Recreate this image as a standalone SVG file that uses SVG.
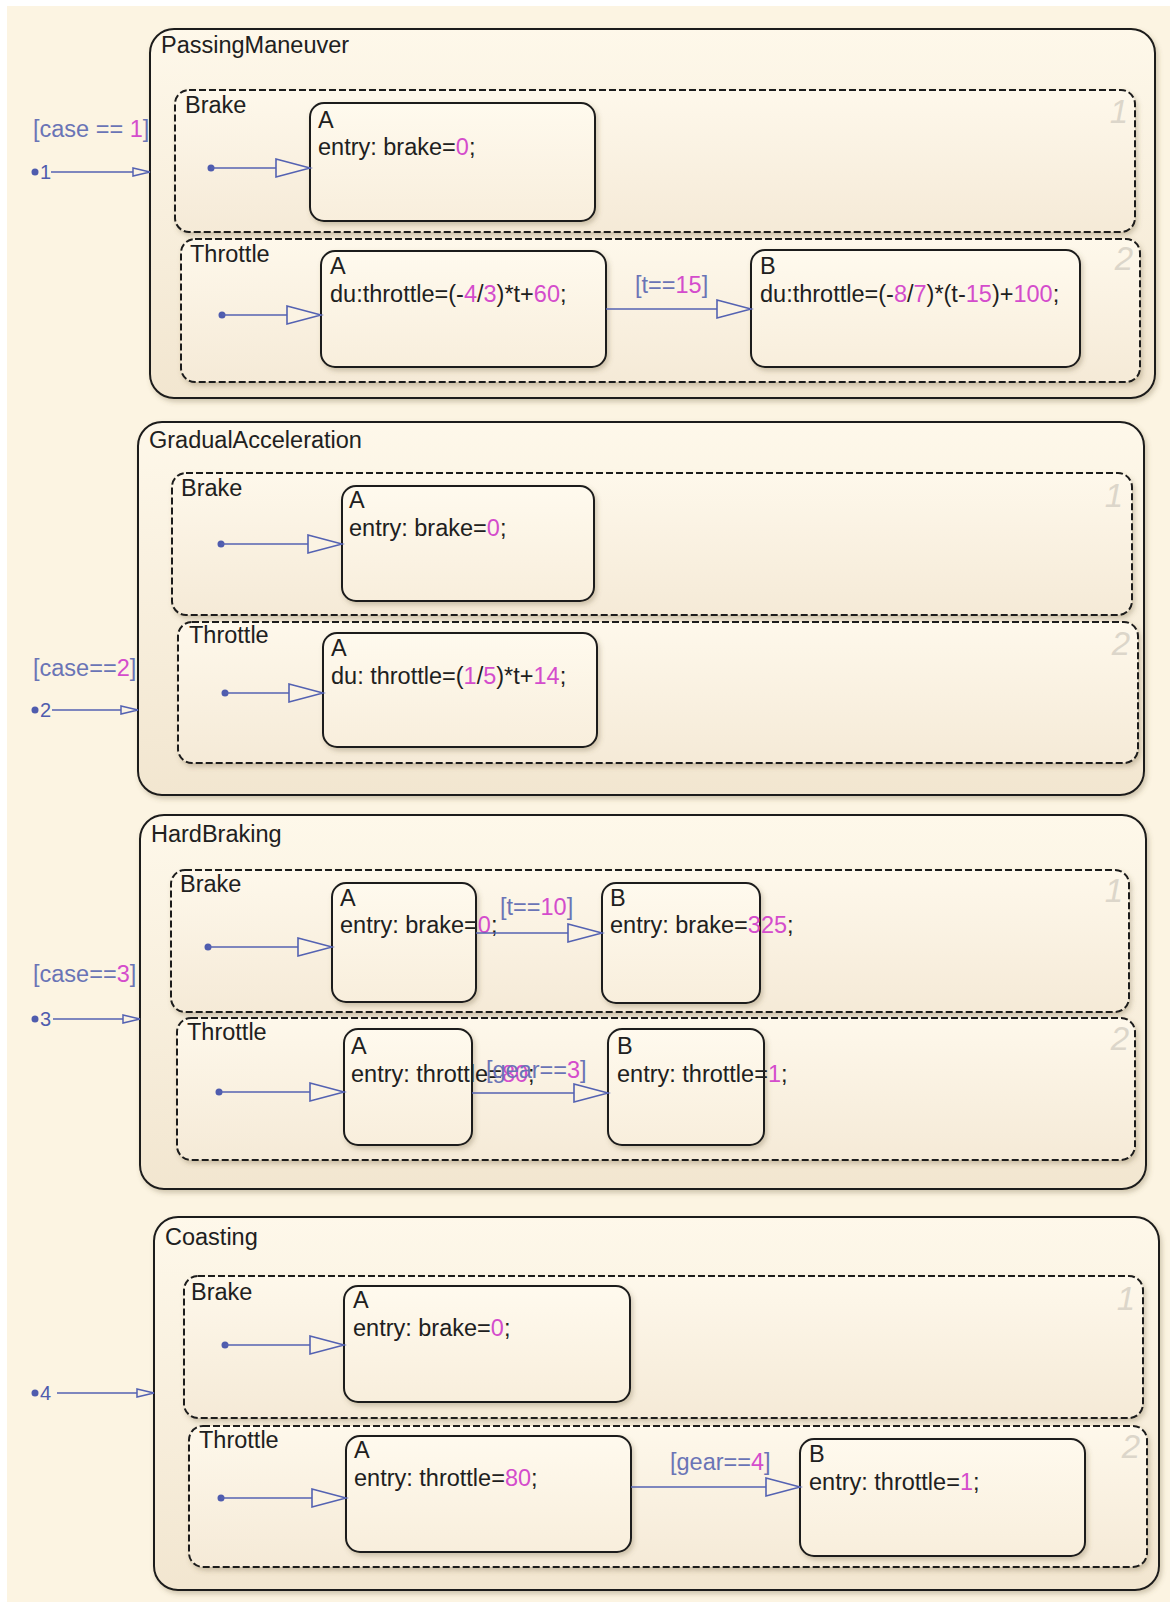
<svg xmlns="http://www.w3.org/2000/svg" width="1170" height="1602" viewBox="0 0 1170 1602">
<style>
.t{font-family:"Liberation Sans",Arial,sans-serif;font-size:23.5px;fill:#202020}
.m{fill:#d44ccc}
.lb{font-family:"Liberation Sans",Arial,sans-serif;font-size:23.5px;fill:#6a74b6}
.jn{font-family:"Liberation Sans",Arial,sans-serif;font-size:20px;fill:#4f5cae}
.num{font-family:"Liberation Sans",Arial,sans-serif;font-size:33px;font-style:italic;fill:#dcd6ca;text-anchor:end}
.chart{fill:url(#gChart);stroke:#1c1c1c;stroke-width:2;filter:url(#sh)}
.region{fill:url(#gReg);stroke:#1c1c1c;stroke-width:2;stroke-dasharray:7 3;filter:url(#sh)}
.state{fill:url(#gState);stroke:#1c1c1c;stroke-width:2;filter:url(#sh)}
.tr{stroke:#5462b2;stroke-width:1.6;fill:none;marker-end:url(#ah)}
.en{stroke:#5462b2;stroke-width:1.6;fill:none;marker-end:url(#ahs)}
.dot{fill:#4f5cae}
</style>
<defs>
<linearGradient id="gChart" x1="0" y1="0" x2="0" y2="1"><stop offset="0" stop-color="#fef8ea"/><stop offset="1" stop-color="#f2e6d0"/></linearGradient>
<linearGradient id="gReg" x1="0" y1="0" x2="0" y2="1"><stop offset="0" stop-color="#fef8eb"/><stop offset="1" stop-color="#f5ead7"/></linearGradient>
<linearGradient id="gState" x1="0" y1="0" x2="0" y2="1"><stop offset="0" stop-color="#fffaee"/><stop offset="1" stop-color="#f8eedc"/></linearGradient>
<filter id="sh" x="-5%" y="-5%" width="112%" height="118%"><feDropShadow dx="2" dy="3" stdDeviation="2.5" flood-color="#6b5a3a" flood-opacity="0.3"/></filter>
<marker id="ah" markerUnits="userSpaceOnUse" markerWidth="38" markerHeight="22" refX="35" refY="10" orient="auto"><path d="M1,1 L35,10 L1,19 Z" fill="#fbf3e3" stroke="#5462b2" stroke-width="1.6"/></marker>
<marker id="ahs" markerUnits="userSpaceOnUse" markerWidth="20" markerHeight="12" refX="18" refY="5" orient="auto"><path d="M1,1 L18,5 L1,9 Z" fill="#fbf3e3" stroke="#5462b2" stroke-width="1.5"/></marker>
</defs>
<rect x="0" y="0" width="1170" height="1602" fill="#ffffff"/>
<rect x="7" y="6" width="1163" height="1596" fill="#fcf4e2"/>

<!-- Chart 1 -->
<g id="PassingManeuver">
<rect class="chart" x="150" y="29" width="1005" height="369" rx="24"/>
<text class="t" x="161" y="53">PassingManeuver</text>
</g>
<g id="PM_Brake">
<rect class="region" x="175" y="90" width="960" height="142" rx="14"/>
<text class="t" x="185" y="113">Brake</text>
<text class="num" x="1128" y="123">1</text>
</g>
<g id="PM_Brake_A">
<rect class="state" x="310" y="103" width="285" height="118" rx="14"/>
<text class="t" x="318" y="128">A</text>
<text class="t" x="318" y="155">entry: brake=<tspan class="m">0</tspan>;</text>
</g>
<g id="PM_Throttle">
<rect class="region" x="181" y="239" width="959" height="143" rx="14"/>
<text class="t" x="190" y="262">Throttle</text>
<text class="num" x="1133" y="270">2</text>
</g>
<g id="PM_Throttle_A">
<rect class="state" x="321" y="251" width="285" height="116" rx="14"/>
<text class="t" x="330" y="274">A</text>
<text class="t" x="330" y="302">du:throttle=(-<tspan class="m">4</tspan>/<tspan class="m">3</tspan>)*t+<tspan class="m">60</tspan>;</text>
</g>
<g id="PM_Throttle_B">
<rect class="state" x="751" y="250" width="329" height="117" rx="14"/>
<text class="t" x="760" y="274">B</text>
<text class="t" x="760" y="302">du:throttle=(-<tspan class="m">8</tspan>/<tspan class="m">7</tspan>)*(t-<tspan class="m">15</tspan>)+<tspan class="m">100</tspan>;</text>
</g>

<!-- Chart 2 -->
<g id="GradualAcceleration">
<rect class="chart" x="138" y="422" width="1006" height="373" rx="24"/>
<text class="t" x="149" y="448">GradualAcceleration</text>
</g>
<g id="GA_Brake">
<rect class="region" x="172" y="473" width="960" height="142" rx="14"/>
<text class="t" x="181" y="496">Brake</text>
<text class="num" x="1123" y="507">1</text>
</g>
<g id="GA_Brake_A">
<rect class="state" x="342" y="486" width="252" height="115" rx="14"/>
<text class="t" x="349" y="508">A</text>
<text class="t" x="349" y="536">entry: brake=<tspan class="m">0</tspan>;</text>
</g>
<g id="GA_Throttle">
<rect class="region" x="178" y="622" width="960" height="141" rx="14"/>
<text class="t" x="189" y="643">Throttle</text>
<text class="num" x="1130" y="655">2</text>
</g>
<g id="GA_Throttle_A">
<rect class="state" x="323" y="633" width="274" height="114" rx="14"/>
<text class="t" x="331" y="656">A</text>
<text class="t" x="331" y="684">du: throttle=(<tspan class="m">1</tspan>/<tspan class="m">5</tspan>)*t+<tspan class="m">14</tspan>;</text>
</g>

<!-- Chart 3 -->
<g id="HardBraking">
<rect class="chart" x="140" y="815" width="1006" height="374" rx="24"/>
<text class="t" x="151" y="842">HardBraking</text>
</g>
<g id="HB_Brake">
<rect class="region" x="171" y="870" width="958" height="142" rx="14"/>
<text class="t" x="180" y="892">Brake</text>
<text class="num" x="1123" y="902">1</text>
</g>
<g id="HB_Brake_A">
<rect class="state" x="332" y="883" width="144" height="119" rx="14"/>
<text class="t" x="340" y="906">A</text>
<text class="t" x="340" y="933">entry: brake=<tspan class="m">0</tspan>;</text>
</g>
<g id="HB_Brake_B">
<rect class="state" x="602" y="883" width="158" height="120" rx="14"/>
<text class="t" x="610" y="906">B</text>
<text class="t" x="610" y="933">entry: brake=<tspan class="m">325</tspan>;</text>
</g>
<g id="HB_Throttle">
<rect class="region" x="177" y="1018" width="958" height="142" rx="14"/>
<text class="t" x="187" y="1040">Throttle</text>
<text class="num" x="1129" y="1050">2</text>
</g>
<g id="HB_Throttle_A">
<rect class="state" x="344" y="1029" width="128" height="116" rx="14"/>
<text class="t" x="351" y="1054">A</text>
<text class="t" x="351" y="1082">entry: throttle=<tspan class="m">80</tspan>;</text>
</g>
<g id="HB_Throttle_B">
<rect class="state" x="608" y="1029" width="156" height="116" rx="14"/>
<text class="t" x="617" y="1054">B</text>
<text class="t" x="617" y="1082">entry: throttle=<tspan class="m">1</tspan>;</text>
</g>

<!-- Chart 4 -->
<g id="Coasting">
<rect class="chart" x="154" y="1217" width="1005" height="373" rx="24"/>
<text class="t" x="165" y="1245">Coasting</text>
</g>
<g id="CO_Brake">
<rect class="region" x="184" y="1276" width="959" height="142" rx="14"/>
<text class="t" x="191" y="1300">Brake</text>
<text class="num" x="1135" y="1310">1</text>
</g>
<g id="CO_Brake_A">
<rect class="state" x="344" y="1286" width="286" height="116" rx="14"/>
<text class="t" x="353" y="1308">A</text>
<text class="t" x="353" y="1336">entry: brake=<tspan class="m">0</tspan>;</text>
</g>
<g id="CO_Throttle">
<rect class="region" x="189" y="1426" width="958" height="141" rx="14"/>
<text class="t" x="199" y="1448">Throttle</text>
<text class="num" x="1140" y="1458">2</text>
</g>
<g id="CO_Throttle_A">
<rect class="state" x="346" y="1436" width="285" height="116" rx="14"/>
<text class="t" x="354" y="1458">A</text>
<text class="t" x="354" y="1486">entry: throttle=<tspan class="m">80</tspan>;</text>
</g>
<g id="CO_Throttle_B">
<rect class="state" x="800" y="1439" width="285" height="117" rx="14"/>
<text class="t" x="809" y="1462">B</text>
<text class="t" x="809" y="1490">entry: throttle=<tspan class="m">1</tspan>;</text>
</g>

<!-- Connectors -->
<g id="connectors">
<!-- entry transitions -->
<text class="lb" x="33" y="137">[case == <tspan class="m">1</tspan>]</text>
<circle class="dot" cx="35" cy="172" r="3.5"/>
<text class="jn" x="40" y="179">1</text>
<path class="en" d="M51,172 H150"/>

<text class="lb" x="33" y="676">[case==<tspan class="m">2</tspan>]</text>
<circle class="dot" cx="35" cy="710" r="3.5"/>
<text class="jn" x="40" y="717">2</text>
<path class="en" d="M52,710 H138"/>

<text class="lb" x="33" y="982">[case==<tspan class="m">3</tspan>]</text>
<circle class="dot" cx="35" cy="1019" r="3.5"/>
<text class="jn" x="40" y="1026">3</text>
<path class="en" d="M53,1019 H140"/>

<circle class="dot" cx="35" cy="1393" r="3.5"/>
<text class="jn" x="40" y="1400">4</text>
<path class="en" d="M57,1393 H154"/>

<!-- default transitions -->
<circle class="dot" cx="211" cy="168" r="3.5"/><path class="tr" d="M211,168 H310"/>
<circle class="dot" cx="222" cy="315" r="3.5"/><path class="tr" d="M222,315 H321"/>
<circle class="dot" cx="221" cy="544" r="3.5"/><path class="tr" d="M221,544 H342"/>
<circle class="dot" cx="225" cy="693" r="3.5"/><path class="tr" d="M225,693 H323"/>
<circle class="dot" cx="208" cy="947" r="3.5"/><path class="tr" d="M208,947 H332"/>
<circle class="dot" cx="219" cy="1092" r="3.5"/><path class="tr" d="M219,1092 H344"/>
<circle class="dot" cx="225" cy="1345" r="3.5"/><path class="tr" d="M225,1345 H344"/>
<circle class="dot" cx="221" cy="1498" r="3.5"/><path class="tr" d="M221,1498 H346"/>

<!-- state transitions -->
<path class="tr" d="M606,309 H751"/>
<text class="lb" x="635" y="293">[t==<tspan class="m">15</tspan>]</text>
<path class="tr" d="M476,933 H602"/>
<text class="lb" x="500" y="915">[t==<tspan class="m">10</tspan>]</text>
<path class="tr" d="M472,1093 H608"/>
<text class="lb" x="486" y="1078">[gear==<tspan class="m">3</tspan>]</text>
<path class="tr" d="M631,1487 H800"/>
<text class="lb" x="670" y="1470">[gear==<tspan class="m">4</tspan>]</text>
</g>
</svg>
